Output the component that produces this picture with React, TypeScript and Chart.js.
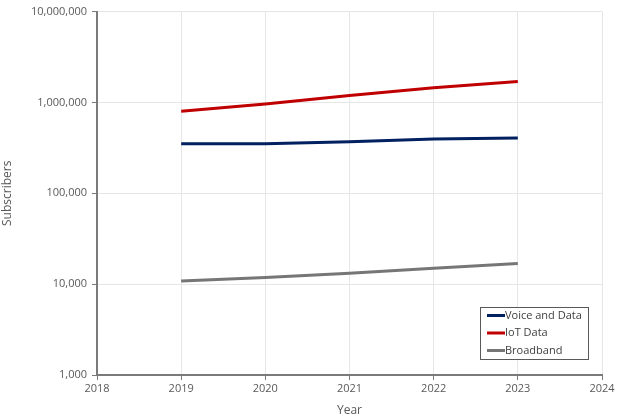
import React, { useEffect, useRef } from "react";
import { Chart, registerables } from "chart.js";

Chart.register(...registerables);

const years = [2019, 2020, 2021, 2022, 2023];
const voiceAndData = [350000, 352000, 370000, 395000, 405000];
const iotData = [800000, 960000, 1190000, 1450000, 1700000];
const broadband = [10800, 11800, 13200, 15000, 16900];
const seriesNames = ["Voice and Data", "IoT Data", "Broadband"];
const xTitle = "Year";
const yTitle = "Subscribers";

const FONT = "'Open Sans', 'Noto Sans', sans-serif";

const legendPlugin = {
  id: "boxLegend",
  afterDraw(chart: any) {
    const { ctx, chartArea } = chart;
    const w = 108;
    const h = 52;
    const x0 = chartArea.right - 14 - w;
    const y0 = chartArea.bottom - 16 - h;
    ctx.save();
    ctx.fillStyle = "#ffffff";
    ctx.fillRect(x0, y0, w, h);
    ctx.strokeStyle = "#595959";
    ctx.lineWidth = 1;
    ctx.strokeRect(x0 + 0.5, y0 + 0.5, w, h);
    ctx.font = `11px ${FONT}`;
    ctx.textBaseline = "middle";
    chart.data.datasets.forEach((ds: any, i: number) => {
      const cy = y0 + 8.5 + i * 17.5;
      ctx.strokeStyle = ds.borderColor;
      ctx.lineWidth = 3;
      ctx.beginPath();
      ctx.moveTo(x0 + 7, cy);
      ctx.lineTo(x0 + 25, cy);
      ctx.stroke();
      ctx.fillStyle = "#404040";
      ctx.textAlign = "left";
      ctx.fillText(ds.label, x0 + 25, cy);
    });
    ctx.restore();
  },
};

export default function App() {
  const ref = useRef<HTMLCanvasElement | null>(null);
  useEffect(() => {
    if (!ref.current) return;
    const mk = (vals: number[]) => years.map((y, i) => ({ x: y, y: vals[i] }));
    const chart = new Chart(ref.current, {
      type: "line",
      data: {
        datasets: [
          { label: seriesNames[0], data: mk(voiceAndData), borderColor: "#002060", backgroundColor: "#002060", borderWidth: 3, pointRadius: 0 },
          { label: seriesNames[1], data: mk(iotData), borderColor: "#C00000", backgroundColor: "#C00000", borderWidth: 3, pointRadius: 0 },
          { label: seriesNames[2], data: mk(broadband), borderColor: "#767676", backgroundColor: "#767676", borderWidth: 3, pointRadius: 0 },
        ],
      },
      options: {
        animation: false,
        responsive: false,
        maintainAspectRatio: false,
        layout: { padding: { left: 0, right: 38, top: 11, bottom: 0 } },
        plugins: { legend: { display: false }, tooltip: { enabled: false } },
        scales: {
          x: {
            type: "linear",
            min: 2018,
            max: 2024,
            ticks: {
              stepSize: 1,
              color: "#595959",
              font: { family: FONT, size: 11 },
              padding: 2,
              callback: (v: any) => String(v),
            },
            grid: { color: "#e6e6e6", tickColor: "#7a7a7a", tickLength: 5, lineWidth: 1 },
            border: { color: "#7a7a7a", width: 2 },
            title: { display: true, text: xTitle, color: "#595959", font: { family: FONT, size: 12 }, padding: { top: 0, bottom: 0 } },
            afterFit: (s: any) => { s.height = 43; },
          },
          y: {
            type: "logarithmic",
            min: 1000,
            max: 10000000,
            afterBuildTicks: (s: any) => {
              s.ticks = [1000, 10000, 100000, 1000000, 10000000].map((v) => ({ value: v, major: false }));
            },
            ticks: {
              color: "#595959",
              font: { family: FONT, size: 11 },
              padding: 5,
              autoSkip: false,
              callback: (v: any) => Number(v).toLocaleString("en-US"),
            },
            grid: { color: "#e6e6e6", tickColor: "#7a7a7a", tickLength: 5, lineWidth: 1 },
            border: { color: "#7a7a7a", width: 2 },
            title: { display: true, text: yTitle, color: "#595959", font: { family: FONT, size: 12 }, padding: { top: 0, bottom: 2 } },
            afterFit: (s: any) => { s.width = 97; },
          },
        },
      },
      plugins: [legendPlugin],
    } as any);
    return () => chart.destroy();
  }, []);
  return (
    <div style={{ position: "fixed", left: 0, top: 0, width: 640, height: 418, background: "#fff" }}>
      <canvas ref={ref} width={640} height={418} style={{ width: 640, height: 418 }} />
    </div>
  );
}
